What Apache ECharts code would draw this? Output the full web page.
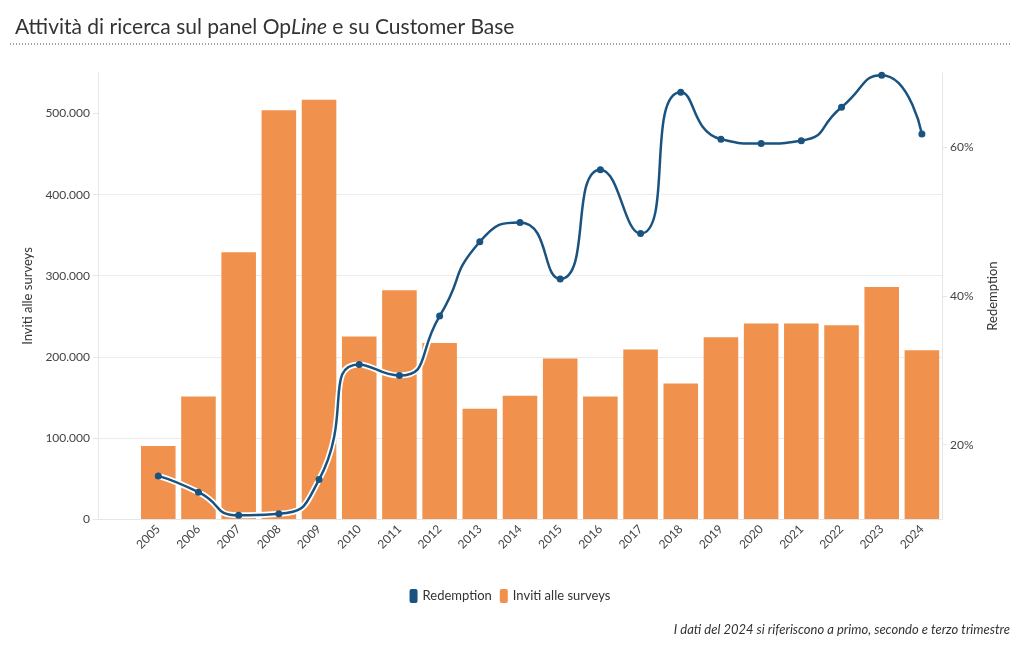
<!DOCTYPE html>
<html>
<head>
<meta charset="utf-8">
<script src="https://cdn.jsdelivr.net/npm/echarts@6/dist/echarts.min.js"></script>
<style>
html,body{margin:0;padding:0;background:#fff;}
#chart{width:1020px;height:650px;}
</style>
</head>
<body>
<div id="chart"></div>
<script>
const years = ['', '2005','2006','2007','2008','2009','2010','2011','2012','2013','2014','2015','2016','2017','2018','2019','2020','2021','2022','2023','2024'];
const inviti = [null, 90000,151000,329000,504000,517000,225000,282000,217000,136000,152000,198000,151000,209000,167000,224000,241000,241000,239000,286000,208000];
const redemption = [null, 15.8,13.6,10.5,10.7,15.3,30.8,29.3,37.3,47.3,49.9,42.3,57.0,48.4,67.4,61.1,60.5,60.9,65.4,69.7,61.8];
const leftTicks = [0,100000,200000,300000,400000,500000];
const rightTicks = [20,40,60];

const FONT = 'Lato';
const chart = echarts.init(document.getElementById('chart'));
const fmtIt = v => String(v).replace(/\B(?=(\d{3})+(?!\d))/g, '.');

chart.setOption({
  textStyle:{fontFamily:FONT},
  animation:false,
  title:{
    left:10, top:12,
    text:'{a|Attività di ricerca sul panel Op}{b|Line}{a| e su Customer Base}',
    textStyle:{fontWeight:'normal',rich:{
      a:{fontFamily:FONT,fontSize:21,color:'#333',fontWeight:'normal'},
      b:{fontFamily:FONT,fontSize:21,color:'#333',fontStyle:'italic',fontWeight:'normal'}
    }}
  },
  graphic:[
    {type:'line',shape:{x1:10,y1:44,x2:1010,y2:44},style:{stroke:'#444',lineWidth:1,lineDash:[1,2]}},
    {type:'text',right:10,top:623,style:{text:'I dati del 2024 si riferiscono a primo, secondo e terzo trimestre',font:'italic 13px '+FONT,fill:'#333'}}
  ],
  legend:{
    data:['Redemption','Inviti alle surveys'],
    top:584, left:'center',
    icon:'roundRect', itemWidth:8, itemHeight:14, itemGap:8,
    textStyle:{fontSize:13,color:'#333',fontFamily:FONT}
  },
  grid:{left:98,right:78,top:73,bottom:131},
  xAxis:{
    type:'category', data:years,
    axisLine:{lineStyle:{color:'#e6e6e6'}},
    axisTick:{alignWithLabel:true,lineStyle:{color:'#e6e6e6'},length:5},
    axisLabel:{rotate:45,color:'#444',fontSize:12,margin:8,interval:0}
  },
  yAxis:[
    {
      type:'value', min:0, max:550000, interval:100000,
      name:'Inviti alle surveys', nameLocation:'middle', nameGap:62, nameRotate:90,
      nameTextStyle:{color:'#333',fontSize:13},
      axisLine:{show:true,lineStyle:{color:'#e6e6e6'}},
      axisTick:{show:true,length:5,lineStyle:{color:'#e6e6e6'},customValues:leftTicks},
      axisLabel:{color:'#444',fontSize:12,formatter:fmtIt,customValues:leftTicks},
      splitLine:{show:true,lineStyle:{color:'#ececec'},showMaxLine:false,showMinLine:false}
    },
    {
      type:'value', min:10, max:70, position:'right',
      name:'Redemption', nameLocation:'middle', nameGap:44, nameRotate:90,
      nameTextStyle:{color:'#333',fontSize:13},
      axisLine:{show:true,lineStyle:{color:'#e6e6e6'}},
      axisTick:{show:true,length:5,lineStyle:{color:'#e6e6e6'},customValues:rightTicks},
      axisLabel:{color:'#444',fontSize:12,formatter:v=>v+'%',customValues:rightTicks},
      splitLine:{show:false}
    }
  ],
  series:[
    {
      name:'Inviti alle surveys', type:'bar', data:inviti, yAxisIndex:0,
      barCategoryGap:'14%', itemStyle:{color:'#F0914D'}, z:1
    },
    {
      name:'halo', type:'line', data:redemption, yAxisIndex:1, smooth:0.6,
      symbol:'none', lineStyle:{color:'#fff',width:6}, z:2, silent:true, legendHoverLink:false
    },
    {
      name:'Redemption', type:'line', data:redemption, yAxisIndex:1, smooth:0.6,
      symbol:'circle', symbolSize:7,
      itemStyle:{color:'#1A5380'},
      lineStyle:{color:'#1A5380',width:2.5}, z:3
    }
  ],
  color:['#1A5380','#F0914D']
});
</script>
</body>
</html>
